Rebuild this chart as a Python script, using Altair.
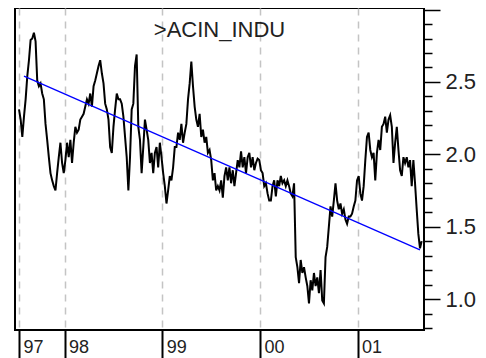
import altair as alt
import numpy as np
import pandas as pd

# ---- data ----
title_text = ">ACIN_INDU"
start_year = 1997.534   # first observation
end_year = 2001.656     # last observation

seg_1997 = [2.31, 2.24, 2.12, 2.26, 2.38, 2.54, 2.65, 2.79, 2.80, 2.84,
            2.78, 2.51, 2.47, 2.49, 2.42, 2.38, 2.21, 2.10, 1.98, 1.87,
            1.82, 1.78, 1.75, 1.87, 1.98, 2.08, 1.94, 1.87, 1.96, 2.08,
            1.98, 2.10, 1.94, 2.08, 2.19, 2.15, 2.17, 2.24, 2.26, 2.28,
            2.33, 2.38, 2.35, 2.42, 2.33, 2.47, 2.51, 2.56, 2.61]
seg_1998 = [2.65, 2.56, 2.49, 2.35, 2.31, 2.24, 2.05, 2.01, 2.19, 2.31,
            2.42, 2.38, 2.38, 2.35, 2.26, 2.12, 1.98, 1.75, 1.98, 2.31,
            2.35, 2.61, 2.69, 2.19, 2.10, 1.87, 2.05, 2.24, 2.17, 2.10,
            1.94, 2.01, 1.87, 2.01, 2.05, 1.91, 2.08, 1.98, 1.87, 1.78,
            1.66, 1.75, 1.85, 1.82, 1.91, 2.05, 2.05, 2.15, 2.10, 2.21,
            2.08, 2.15]
seg_1999 = [2.21, 2.38, 2.49, 2.64, 2.47, 2.33, 2.24, 2.19, 2.28, 2.12,
            2.17, 2.08, 2.12, 2.01, 2.03, 1.96, 1.82, 1.87, 1.75, 1.78,
            1.75, 1.82, 1.70, 1.85, 1.91, 1.82, 1.91, 1.80, 1.89, 1.78,
            1.87, 1.96, 1.91, 2.02, 1.91, 1.98, 1.87, 1.98, 2.01, 1.91,
            1.98, 1.89, 1.94, 1.97, 1.96, 1.89, 1.87, 1.78, 1.80, 1.73,
            1.68, 1.68]
seg_2000 = [1.78, 1.82, 1.71, 1.82, 1.78, 1.85, 1.80, 1.82, 1.78, 1.82,
            1.78, 1.73, 1.71, 1.80, 1.29, 1.22, 1.11, 1.27, 1.18, 1.22,
            1.15, 1.09, 0.97, 1.13, 1.06, 1.18, 1.09, 1.15, 1.04, 1.20,
            0.99, 0.97, 1.29, 1.36, 1.50, 1.64, 1.57, 1.68, 1.80, 1.68,
            1.62, 1.66, 1.59, 1.62, 1.55, 1.52, 1.57]
seg_2001 = [1.57, 1.59, 1.64, 1.68, 1.82, 1.85, 1.73, 1.68, 1.78, 1.96,
            2.12, 2.15, 2.03, 1.98, 2.01, 1.82, 2.01, 2.10, 2.03, 2.19,
            2.21, 2.26, 2.15, 2.24, 2.27, 2.19, 1.94, 2.08, 2.19, 2.03,
            1.89, 1.85, 1.98, 1.94, 1.98, 1.91, 1.96, 1.78, 1.96, 1.80,
            1.62, 1.45, 1.35, 1.40]

values = seg_1997 + seg_1998 + seg_1999 + seg_2000 + seg_2001
years = np.linspace(start_year, end_year, len(values))
df = pd.DataFrame({"t": years, "v": values})

# trend line end points
reg_t = [1997.585, 2001.639]
reg_v = [2.54, 1.34]
reg_df = pd.DataFrame({"t": reg_t, "v": reg_v})

x_tick_values = [start_year, 1998, 1999, 2000, 2001]
y_tick_values = [0.8, 0.9, 1.0, 1.1, 1.2, 1.3, 1.4, 1.5, 1.6, 1.7, 1.8, 1.9,
                 2.0, 2.1, 2.2, 2.3, 2.4, 2.5, 2.6, 2.7, 2.8, 2.9, 3.0]

FONT = "Liberation Sans"
W, H = 409, 322
major_test = "abs(datum.value * 2 - round(datum.value * 2)) < 0.001"

x_enc = alt.X(
    "t:Q",
    scale=alt.Scale(domain=[1997.493, 2001.680], nice=False, zero=False),
    axis=alt.Axis(
        values=x_tick_values,
        labelExpr="substring(toString(floor(datum.value)), 2)",
        tickSize=28, tickWidth=2, tickColor="black",
        labelAlign="left", labelBaseline="alphabetic",
        labelPadding=-6, labelOffset=4, labelFlush=False,
        labelFont=FONT, labelFontSize=18, labelColor="#222222",
        labelOverlap=False,
        grid=True, gridDash=[7, 6], gridColor="#c4c4c4", gridWidth=1.5,
        domain=False, title=None,
    ),
)
y_enc = alt.Y(
    "v:Q",
    scale=alt.Scale(domain=[0.786, 3.011], nice=False, zero=False),
    axis=alt.Axis(
        orient="right",
        values=y_tick_values,
        tickSize={"condition": {"test": major_test, "value": 16}, "value": 8},
        tickWidth=1.5, tickColor="black",
        labelExpr="datum.value > 2.95 ? '' : (" + major_test + " ? format(datum.value, '.1f') : '')",
        labelPadding=5,
        labelFont=FONT, labelFontSize=22, labelColor="#222222",
        labelOverlap=False,
        grid=False, domain=False, title=None,
    ),
)

main = alt.Chart(df).mark_line(color="black", strokeWidth=2).encode(x=x_enc, y=y_enc)
trend = alt.Chart(reg_df).mark_line(color="#0000ff", strokeWidth=1.3).encode(x=x_enc, y=y_enc)
title = alt.Chart(pd.DataFrame({"label": [title_text]})).mark_text(
    font=FONT, fontSize=22, color="#222222", align="center", baseline="alphabetic"
).encode(text="label:N", x=alt.value(W / 2), y=alt.value(29))

chart = alt.layer(main, trend, title).properties(
    width=W,
    height=H,
    autosize=alt.AutoSizeParams(type="none"),
    padding={"left": 7, "top": 0, "right": 54, "bottom": 28},
).configure_view(stroke="black", strokeWidth=2)

chart.save("out.html", embed_options={"renderer": "svg", "actions": False})
